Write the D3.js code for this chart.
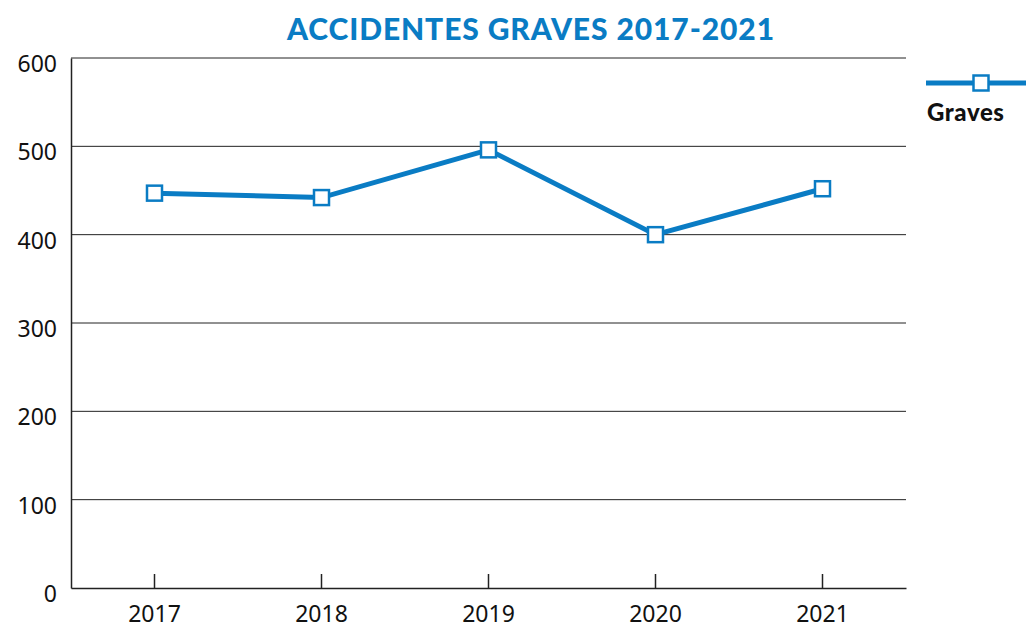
<!DOCTYPE html>
<html>
<head>
<meta charset="utf-8">
<script src="https://cdn.jsdelivr.net/npm/d3@7"></script>
<style>
  body { margin: 0; background: #fff; }
</style>
</head>
<body>
<div id="chart"></div>
<script>
const years = ['2017', '2018', '2019', '2020', '2021'];
const graves = [447, 442, 496, 400, 452];
const yTicks = [0, 100, 200, 300, 400, 500, 600];
const seriesName = 'Graves';
const title = 'ACCIDENTES GRAVES 2017-2021';

const blue = '#0a7cc4';
const width = 1026, height = 630;
const margin = {top: 58, right: 120, bottom: 42, left: 71};

const svg = d3.select('#chart')
  .append('svg')
    .attr('width', width)
    .attr('height', height);

const x = d3.scaleBand()
    .domain(years)
    .range([margin.left, width - margin.right]);

const y = d3.scaleLinear()
    .domain([0, 600])
    .range([height - margin.bottom, margin.top]);

// gridlines
svg.append('g')
  .selectAll('line')
  .data(yTicks.slice(1))
  .join('line')
    .attr('x1', margin.left)
    .attr('x2', width - margin.right)
    .attr('y1', d => y(d))
    .attr('y2', d => y(d))
    .attr('stroke', '#222')
    .attr('stroke-width', 1);

// y axis
const yAxis = svg.append('g')
    .attr('transform', `translate(${margin.left},0)`)
    .call(d3.axisLeft(y).tickValues(yTicks).tickSize(0).tickPadding(14));
yAxis.select('.domain').attr('stroke', '#222').attr('stroke-width', 1.5);
yAxis.selectAll('text')
    .attr('font-family', 'Noto Sans, sans-serif')
    .attr('font-size', 23)
    .attr('fill', '#111')
    .attr('dy', '0.58em');

// x axis
const xAxis = svg.append('g')
    .attr('transform', `translate(0,${y(0)})`)
    .call(d3.axisBottom(x).tickSizeInner(-14).tickSizeOuter(0).tickPadding(12));
xAxis.select('.domain').attr('stroke', '#222').attr('stroke-width', 1.5);
xAxis.selectAll('.tick line').attr('stroke', '#222').attr('stroke-width', 1.5);
xAxis.selectAll('text')
    .attr('font-family', 'Noto Sans, sans-serif')
    .attr('font-size', 23)
    .attr('fill', '#111')
    .attr('dy', '0.95em');

// line
const line = d3.line()
    .x((d, i) => x(years[i]) + x.bandwidth() / 2)
    .y(d => y(d));

svg.append('path')
    .datum(graves)
    .attr('d', line)
    .attr('fill', 'none')
    .attr('stroke', blue)
    .attr('stroke-width', 5);

const s = 15;
svg.append('g')
  .selectAll('rect')
  .data(graves)
  .join('rect')
    .attr('x', (d, i) => x(years[i]) + x.bandwidth() / 2 - s / 2)
    .attr('y', d => y(d) - s / 2)
    .attr('width', s)
    .attr('height', s)
    .attr('fill', '#fff')
    .attr('stroke', blue)
    .attr('stroke-width', 2.5);

// title
svg.append('text')
    .attr('x', 531)
    .attr('y', 40)
    .attr('text-anchor', 'middle')
    .attr('font-family', 'Lato, sans-serif')
    .attr('font-weight', 900)
    .attr('font-size', 30)
    .attr('letter-spacing', 0.9)
    .attr('fill', blue)
    .text(title);

// legend
const lg = svg.append('g');
lg.append('line')
    .attr('x1', 926).attr('x2', 1026)
    .attr('y1', 83).attr('y2', 83)
    .attr('stroke', blue)
    .attr('stroke-width', 5);
lg.append('rect')
    .attr('x', 981 - s / 2).attr('y', 83 - s / 2)
    .attr('width', s).attr('height', s)
    .attr('fill', '#fff')
    .attr('stroke', blue)
    .attr('stroke-width', 2.5);
lg.append('text')
    .attr('x', 927)
    .attr('y', 121)
    .attr('font-family', 'Lato, sans-serif')
    .attr('font-weight', 900)
    .attr('font-size', 24)
    .attr('letter-spacing', 0.6)
    .attr('fill', '#111')
    .text(seriesName);
</script>
</body>
</html>
